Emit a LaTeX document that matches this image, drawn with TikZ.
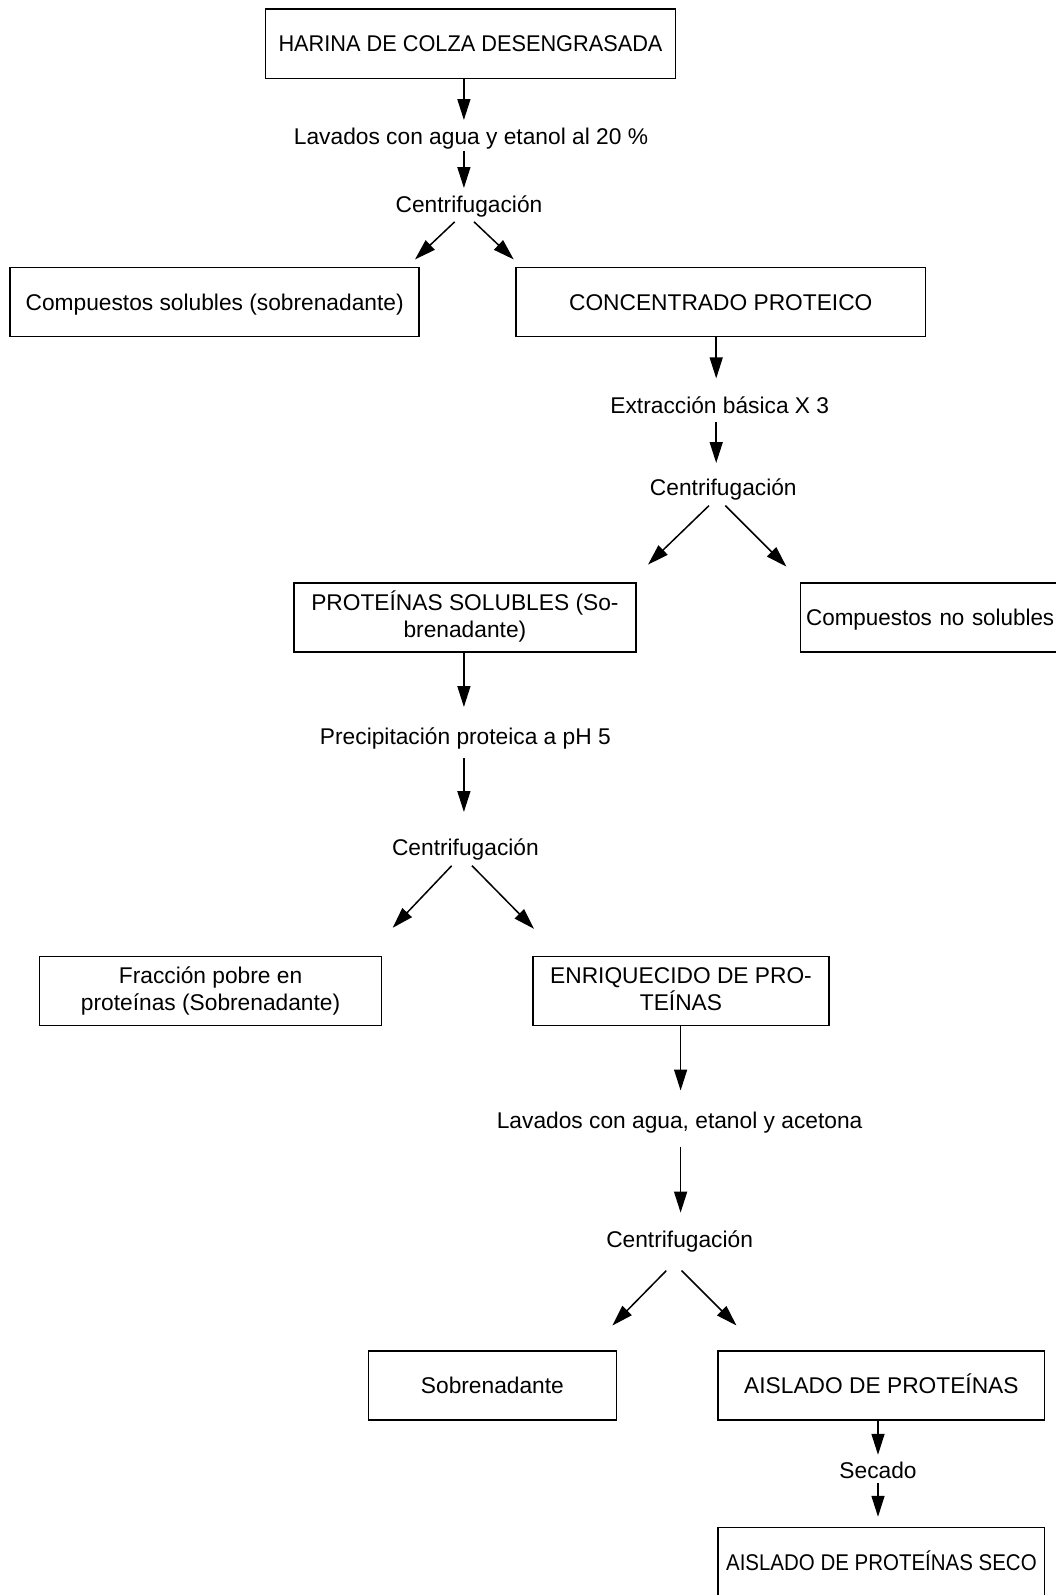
\documentclass[tikz,border=0pt]{standalone}
\usepackage{fontspec}
\setmainfont{Liberation Sans}
\newfontfamily\narrowa[FakeStretch=0.955]{Liberation Sans}
\newfontfamily\narrowb[FakeStretch=0.90]{Liberation Sans}
\newfontfamily\narrowc[FakeStretch=0.985]{Liberation Sans}
\usetikzlibrary{arrows.meta}
\tikzset{
  lbl/.style={font=\fontsize{22.75}{27}\selectfont, inner sep=0pt, anchor=base},
  box/.style={draw, line width=1.5pt, font=\fontsize{22.75}{27}\selectfont, align=center, inner sep=2pt,
              text height=16pt, text depth=0pt},
  box2/.style={box, text height=39pt, text depth=0pt},
  arr/.style={line width=1.5pt, -{Triangle[length=21pt,width=13pt]}}
}
\begin{document}
\begin{tikzpicture}[x=1pt,y=-1pt]
\useasboundingbox (0,0) rectangle (1056,1595);
% boxes
\node[box, minimum width=410pt, minimum height=69pt] (harina) at (470.5,43.75) {\narrowa HARINA DE COLZA DESENGRASADA};
\node[box, minimum width=408.9pt, minimum height=69.2pt] (csol) at (214.65,302.1) {Compuestos solubles (sobrenadante)};
\node[box, minimum width=409.9pt, minimum height=69.2pt] (conc) at (720.75,302.1) {CONCENTRADO PROTEICO};
\node[box2, minimum width=341.8pt, minimum height=69pt] (psol) at (464.9,617.5) {PROTEÍNAS SOLUBLES (So-\\brenadante)};
\node[box, anchor=west, minimum height=69pt, text width=268pt, inner xsep=5.8pt, align=left] (cnsol) at (799.6,617.5) {\narrowc Compuestos no solubles};
\node[box2, minimum width=341.8pt, minimum height=69.1pt] (frac) at (210.6,990.85) {Fracción pobre en\\proteínas (Sobrenadante)};
\node[box2, minimum width=296pt, minimum height=69.1pt] (enr) at (681,990.85) {ENRIQUECIDO DE PRO-\\TEÍNAS};
\node[box, minimum width=248.2pt, minimum height=69pt] (sob) at (492.4,1385.5) {Sobrenadante};
\node[box, minimum width=326.4pt, minimum height=69pt] (ais) at (881.4,1385.5) {AISLADO DE PROTEÍNAS};
\node[box, minimum width=326.4pt, minimum height=69pt] (seco) at (881.4,1562) {\narrowb AISLADO DE PROTEÍNAS SECO};
% labels
\node[lbl] (lav1) at (471,144) {Lavados con agua y etanol al 20 \%};
\node[lbl] (cen1) at (469,212.5) {Centrifugación};
\node[lbl] (ext) at (719.8,413) {Extracción básica X 3};
\node[lbl] (cen2) at (723.3,495.3) {Centrifugación};
\node[lbl] (prec) at (465.4,744.5) {Precipitación proteica a pH 5};
\node[lbl] (cen3) at (465.4,855.4) {Centrifugación};
\node[lbl] (lav2) at (679.6,1128) {Lavados con agua, etanol y acetona};
\node[lbl] (cen4) at (679.6,1247) {Centrifugación};
\node[lbl] (sec) at (878,1478) {Secado};
% arrow end points
\coordinate (a1) at (463.9,120);
\coordinate (a2s) at (463.9,150.6); \coordinate (a2) at (463.9,188);
\coordinate (d1ls) at (454.7,221.8); \coordinate (d1l) at (415,259.4);
\coordinate (d1rs) at (474,221.8); \coordinate (d1r) at (513.7,259.4);
\coordinate (a3) at (716.2,378.4);
\coordinate (a4s) at (716.2,422); \coordinate (a4) at (716.2,463);
\coordinate (d2ls) at (709,505.6); \coordinate (d2l) at (648,564.6);
\coordinate (d2rs) at (725.3,505.6); \coordinate (d2r) at (786.4,566.6);
\coordinate (a5) at (463.9,707);
\coordinate (a6s) at (463.9,758); \coordinate (a6) at (463.9,812);
\coordinate (d3ls) at (451.7,865.7); \coordinate (d3l) at (392.7,927.8);
\coordinate (d3rs) at (472,865.7); \coordinate (d3r) at (534,928.8);
\coordinate (a7) at (680.6,1090.5);
\coordinate (a8s) at (680.6,1146.5); \coordinate (a8) at (680.6,1212.6);
\coordinate (d4ls) at (666.3,1270.6); \coordinate (d4l) at (612.4,1325.5);
\coordinate (d4rs) at (681.6,1270.6); \coordinate (d4r) at (736.5,1325.5);
\coordinate (a9) at (878,1454.8);
\coordinate (a10s) at (878,1483); \coordinate (a10) at (878,1516.8);
% arrows
\draw[arr] (harina.south -| a1) -- (a1);
\draw[arr] (a2s) -- (a2);
\draw[arr] (d1ls) -- (d1l);
\draw[arr] (d1rs) -- (d1r);
\draw[arr] (conc.south -| a3) -- (a3);
\draw[arr] (a4s) -- (a4);
\draw[arr] (d2ls) -- (d2l);
\draw[arr] (d2rs) -- (d2r);
\draw[arr] (psol.south -| a5) -- (a5);
\draw[arr] (a6s) -- (a6);
\draw[arr] (d3ls) -- (d3l);
\draw[arr] (d3rs) -- (d3r);
\draw[arr] (enr.south -| a7) -- (a7);
\draw[arr] (a8s) -- (a8);
\draw[arr] (d4ls) -- (d4l);
\draw[arr] (d4rs) -- (d4r);
\draw[arr] (ais.south -| a9) -- (a9);
\draw[arr] (a10s) -- (a10);
\end{tikzpicture}
\end{document}
